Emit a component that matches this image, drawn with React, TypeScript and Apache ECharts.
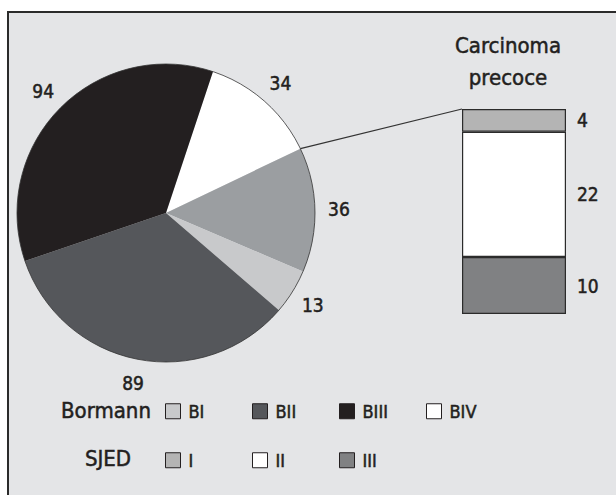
import React, { useEffect, useRef } from "react";
import * as echarts from "echarts";

// ---- data ----
const pieNames = ["BIV", "Carcinoma precoce", "BI", "BII", "BIII"];
const pieValues = [34, 36, 13, 89, 94];
const bormannLegend = ["BI", "BII", "BIII", "BIV"];
const sjedNames = ["I", "II", "III"];
const sjedValues = [4, 22, 10];
const barCategory = ["Carcinoma precoce"];

// ---- styles ----
const FONT = "'DejaVu Sans Condensed', 'DejaVu Sans', sans-serif";
const INK = "#231f20";
const BOLDEN = { textBorderColor: INK, textBorderWidth: 0.5 };
const pieColor: Record<string, string> = {
  BIV: "#ffffff",
  "Carcinoma precoce": "#9b9ea1",
  BI: "#c8c9cb",
  BII: "#55575b",
  BIII: "#231f20",
};
const sjedColor: Record<string, string> = { I: "#b4b4b4", II: "#ffffff", III: "#808183" };

const PIE_C = [166, 213];
const PIE_R = 149;
const START = 71.6;
const GRID = { left: 462, top: 109, width: 104, height: 205 };
const LEGEND_LEFT = 165;
const LEGEND_STEP = 87;

const legendItem = (name: string, col: number, top: number) => ({
  data: [name],
  left: LEGEND_LEFT + col * LEGEND_STEP,
  top,
  padding: 0,
  itemWidth: 15,
  itemHeight: 15,
  icon: "rect",
  selectedMode: false,
  itemStyle: { borderColor: INK, borderWidth: 1 },
  textStyle: { fontFamily: FONT, fontSize: 18, color: INK, ...BOLDEN, padding: [0, 0, 0, 3] },
});

export default function App() {
  const ref = useRef<HTMLDivElement>(null);
  useEffect(() => {
    if (!ref.current) return;
    const chart = echarts.init(ref.current, null, { renderer: "svg" });
    const pieTotal = pieValues.reduce((a, b) => a + b, 0);
    const barTotal = sjedValues.reduce((a, b) => a + b, 0);

    const barSeries = sjedNames
      .map((n, i) => ({
        name: n,
        type: "bar",
        stack: "s",
        barWidth: "100%",
        data: [sjedValues[i]],
        itemStyle: { color: sjedColor[n], borderColor: "#2b2b2b", borderWidth: 1.2 },
        label: {
          show: true,
          position: "right",
          distance: 11,
          fontFamily: FONT,
          fontSize: 19,
          color: INK,
          ...BOLDEN,
        },
        silent: true,
      }))
      .reverse();

    chart.setOption({
      animation: false,
      backgroundColor: "#ffffff",
      legend: [
        ...bormannLegend.map((n, i) => legendItem(n, i, 402)),
        ...sjedNames.map((n, i) => legendItem(n, i, 451)),
      ],
      grid: { ...GRID },
      xAxis: { type: "category", data: barCategory, show: false },
      yAxis: { type: "value", min: 0, max: barTotal, show: false },
      series: [
        {
          name: "Bormann",
          type: "pie",
          center: PIE_C,
          radius: PIE_R,
          startAngle: START,
          clockwise: true,
          silent: true,
          label: { show: false },
          labelLine: { show: false },
          data: pieNames.map((n, i) => ({ name: n, value: pieValues[i], itemStyle: { color: pieColor[n] } })),
          z: 2,
        },
        {
          name: "outline",
          type: "pie",
          center: PIE_C,
          radius: PIE_R,
          silent: true,
          label: { show: false },
          labelLine: { show: false },
          itemStyle: { color: "rgba(0,0,0,0)", borderColor: "#333", borderWidth: 0.8 },
          data: [{ name: "outline", value: pieTotal }],
          z: 3,
        },
        {
          name: "labels",
          type: "pie",
          center: PIE_C,
          radius: [PIE_R + 1, PIE_R + 41],
          startAngle: START,
          clockwise: true,
          silent: true,
          itemStyle: { color: "rgba(0,0,0,0)" },
          label: {
            show: true,
            position: "inside",
            formatter: "{c}",
            fontFamily: FONT,
            fontSize: 19,
            color: INK,
            ...BOLDEN,
          },
          labelLine: { show: false },
          data: pieValues.map((v) => ({ value: v })),
          z: 3,
        },
        ...barSeries,
      ],
    });

    // connector line: from boundary after first slice to top-left of the stacked bar
    const a = ((START - (pieValues[0] / pieTotal) * 360) * Math.PI) / 180;
    const px = PIE_C[0] + PIE_R * Math.cos(a);
    const py = PIE_C[1] - PIE_R * Math.sin(a);
    const barTopY = chart.convertToPixel({ yAxisIndex: 0 }, barTotal) as number;
    const barCx = chart.convertToPixel({ xAxisIndex: 0 }, barCategory[0]) as number;
    const barLeftX = barCx - GRID.width / 2;

    const heading = (text: string, x: number, y: number, extra: any = {}) => ({
      type: "text",
      x,
      y,
      z: 10,
      silent: true,
      style: {
        text,
        textAlign: "center",
        fontFamily: FONT,
        fontSize: 22,
        fill: INK,
        stroke: INK,
        lineWidth: 0.5,
        ...extra,
      },
    });

    chart.setOption({
      graphic: {
        elements: [
          {
            type: "rect",
            shape: { x: 8, y: 12, width: 700, height: 600 },
            style: { fill: "#e4e5e7", stroke: "#2b2b2b", lineWidth: 2 },
            z: -10,
            silent: true,
          },
          {
            type: "line",
            shape: { x1: px, y1: py, x2: barLeftX, y2: barTopY },
            style: { stroke: "#333", lineWidth: 1.2 },
            z: 10,
            silent: true,
          },
          heading("Carcinoma\nprecoce", 508, 29, { lineHeight: 32 }),
          heading("Bormann", 106, 410, { textVerticalAlign: "middle" }),
          heading("SJED", 108, 458, { textVerticalAlign: "middle" }),
        ],
      },
    });

    return () => chart.dispose();
  }, []);

  return (
    <div
      ref={ref}
      style={{ position: "absolute", left: 0, top: 0, width: 616, height: 495 }}
    />
  );
}
